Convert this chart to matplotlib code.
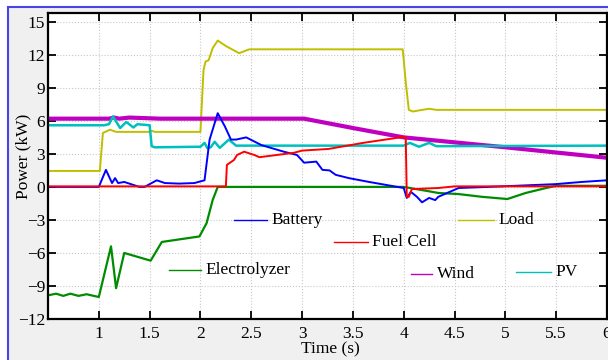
import matplotlib.pyplot as plt
from matplotlib.patches import Rectangle

# --- данные (время, с / мощность, кВт) ---
t_load = [0.5, 1.01, 1.04, 1.11, 1.17, 1.5, 1.52, 1.55, 2.0, 2.03, 2.05, 2.08, 2.12, 2.17,
          2.25, 2.38, 2.48, 3.0, 3.5, 3.99, 4.02, 4.05, 4.09, 4.15, 4.25, 4.32, 6.0]
p_load = [1.45, 1.45, 4.9, 5.2, 5.0, 5.0, 5.1, 5.0, 5.0, 10.6, 11.4, 11.5, 12.6, 13.3,
          12.8, 12.15, 12.5, 12.5, 12.5, 12.5, 9.5, 7.0, 6.85, 6.95, 7.1, 7.0, 7.0]

t_wind = [0.5, 1.1, 1.15, 1.2, 1.3, 1.6, 3.02, 3.5, 4.0, 5.0, 6.0]
p_wind = [6.2, 6.2, 6.3, 6.2, 6.3, 6.2, 6.2, 5.35, 4.5, 3.6, 2.65]

t_pv = [0.5, 1.05, 1.1, 1.14, 1.21, 1.27, 1.34, 1.38, 1.5, 1.52, 1.55, 2.0, 2.04, 2.07,
        2.1, 2.14, 2.19, 2.28, 2.35, 3.0, 4.0, 4.06, 4.15, 4.25, 4.32, 6.0]
p_pv = [5.6, 5.6, 5.7, 6.4, 5.35, 5.9, 5.4, 5.7, 5.6, 3.7, 3.6, 3.65, 4.0, 3.5,
        3.6, 4.1, 3.55, 4.3, 3.75, 3.75, 3.75, 4.0, 3.65, 4.0, 3.7, 3.75]

t_bat = [0.5, 1.0, 1.07, 1.13, 1.16, 1.19, 1.25, 1.4, 1.45, 1.57, 1.65, 1.79, 1.94, 2.04,
         2.09, 2.17, 2.24, 2.3, 2.35, 2.45, 2.6, 2.82, 2.95, 3.02, 3.14, 3.2, 3.27, 3.33,
         3.46, 3.66, 4.0, 4.03, 4.07, 4.13, 4.18, 4.25, 4.31, 4.34, 4.54, 4.83, 5.49,
         5.75, 6.0]
p_bat = [0.0, 0.0, 1.55, 0.35, 0.8, 0.35, 0.45, 0.0, 0.0, 0.6, 0.35, 0.3, 0.35, 0.6,
         4.3, 6.7, 5.5, 4.3, 4.3, 4.5, 3.8, 3.2, 2.9, 2.2, 2.3, 1.55, 1.5, 1.1,
         0.8, 0.45, -0.1, -1.0, -0.45, -0.9, -1.4, -1.0, -1.2, -0.9, -0.1, 0.0, 0.25,
         0.45, 0.6]

t_fc = [0.5, 2.25, 2.26, 2.33, 2.36, 2.43, 2.53, 2.58, 2.92, 3.0, 3.26, 3.6, 4.0, 4.02,
        4.03, 4.05, 4.08, 4.34, 4.5, 6.0]
p_fc = [0.05, 0.05, 2.0, 2.45, 2.9, 3.2, 2.9, 2.7, 3.1, 3.3, 3.45, 4.0, 4.55, 4.5,
        -0.9, -0.9, -0.2, -0.1, 0.05, 0.05]

t_el = [0.5, 0.58, 0.65, 0.72, 0.8, 0.88, 0.95, 1.0, 1.12, 1.17, 1.25, 1.51, 1.62, 1.99,
        2.06, 2.12, 2.17, 4.0, 4.25, 4.34, 4.54, 4.77, 5.02, 5.2, 5.4, 5.5, 6.0]
p_el = [-9.85, -9.7, -9.9, -9.7, -9.9, -9.75, -9.9, -10.0, -5.4, -9.2, -6.0, -6.7, -5.0, -4.5,
        -3.3, -1.2, 0.0, 0.0, -0.4, -0.55, -0.65, -0.9, -1.1, -0.55, -0.1, 0.1, 0.1]

c_bat, c_fc, c_el = '#0000ff', '#ff0000', '#008c00'
c_load, c_wind, c_pv = '#bfbf00', '#c000c0', '#00bfbf'

plt.rcParams['font.family'] = ['Liberation Serif', 'DejaVu Serif']
plt.rcParams['font.size'] = 12.5

fig = plt.figure(figsize=(6.08, 3.6), dpi=100)
fig.patch.set_facecolor('white')
# серая подложка с синей рамкой, как в окне MATLAB
fig.patches.append(Rectangle((8 / 608, -0.05), 1.1, 1 - 7 / 360 + 0.05,
                             transform=fig.transFigure, facecolor='#f0f0f0',
                             edgecolor='#4545e8', linewidth=1.5, zorder=-5))

ax = fig.add_axes([48 / 608, 1 - 319 / 360, 559 / 608, 306 / 360])
ax.set_facecolor('white')

ax.plot(t_load, p_load, color=c_load, linewidth=1.4)
ax.plot(t_wind, p_wind, color=c_wind, linewidth=3.0)
ax.plot(t_pv, p_pv, color=c_pv, linewidth=1.8)
ax.plot(t_el, p_el, color=c_el, linewidth=1.6)
ax.plot(t_bat, p_bat, color=c_bat, linewidth=1.4)
ax.plot(t_fc, p_fc, color=c_fc, linewidth=1.4)

ax.set_xlim(0.5, 6.0)
ax.set_ylim(-12, 15.8)
ax.set_xticks([1, 1.5, 2, 2.5, 3, 3.5, 4, 4.5, 5, 5.5, 6])
ax.set_xticklabels(['1', '1.5', '2', '2.5', '3', '3.5', '4', '4.5', '5', '5.5', '6'])
ax.set_yticks(range(-12, 16, 3))
ax.grid(True, linestyle=':', color='#c8c8c8', linewidth=0.8)
ax.tick_params(direction='in', length=6, width=1.3, top=True, right=True)
ax.tick_params(axis='y', pad=2)
ax.tick_params(axis='x', pad=5)
for s in ax.spines.values():
    s.set_linewidth(1.6)

ax.set_xlabel('Time (s)')
ax.set_ylabel('Power (kW)')
ax.xaxis.set_label_coords(0.505, -0.072)
ax.yaxis.set_label_coords(-0.03, 0.53)

# подписи легенды разбросаны по полю графика
legend_items = [
    ('Battery', c_bat, 0.333, 0.392, 0.324),
    ('Load', c_load, 0.733, 0.798, 0.324),
    ('Fuel Cell', c_fc, 0.512, 0.572, 0.252),
    ('Electrolyzer', c_el, 0.216, 0.274, 0.160),
    ('Wind', c_wind, 0.649, 0.687, 0.147),
    ('PV', c_pv, 0.837, 0.900, 0.154),
]
for name, col, x0, x1, y in legend_items:
    ax.plot([x0, x1], [y, y], color=col, linewidth=1.0, transform=ax.transAxes)
    ax.text(x1 + 0.008, y, name, transform=ax.transAxes, va='center', ha='left')

plt.savefig('out.png', dpi=100, facecolor=fig.get_facecolor())
